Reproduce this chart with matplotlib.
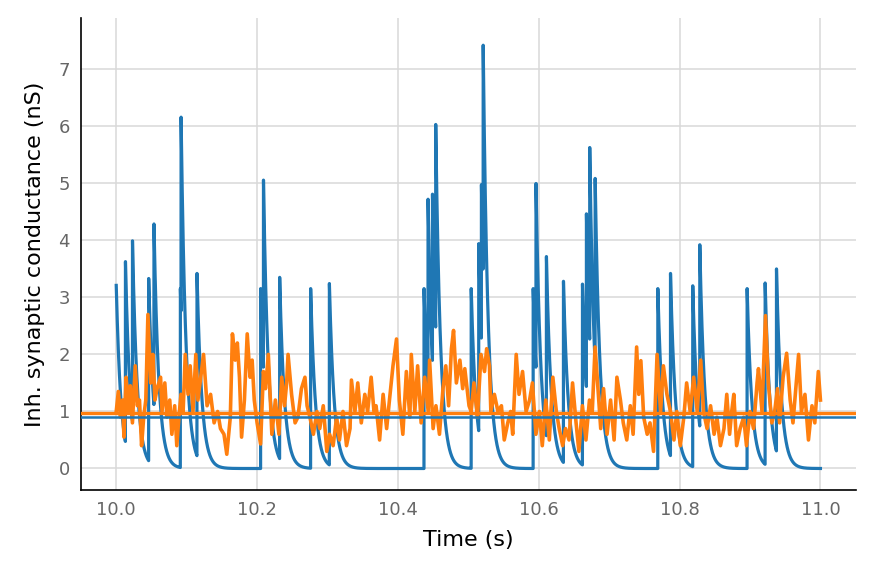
import numpy as np
import matplotlib
matplotlib.use("Agg")
import matplotlib.pyplot as plt

# Blue trace: event times (s) and peak conductance (nS)
blue_event_t = [10.000, 10.013, 10.023, 10.046, 10.0535, 10.091, 10.092, 10.1146,
                10.205, 10.209, 10.232, 10.276, 10.3026, 10.437, 10.4427, 10.449,
                10.4536, 10.504, 10.5147, 10.5185, 10.521, 10.592, 10.596, 10.6108,
                10.635, 10.662, 10.6676, 10.6723, 10.680, 10.769, 10.787, 10.8186,
                10.8286, 10.8958, 10.9214, 10.9375]
blue_peak = [3.21, 3.68, 4.05, 3.38, 4.35, 3.2, 6.25, 3.47,
             3.2, 5.13, 3.4, 3.2, 3.29, 3.2, 4.79, 4.88,
             6.12, 3.2, 4.0, 5.05, 7.53, 3.2, 5.07, 3.77,
             3.33, 3.28, 4.53, 5.71, 5.16, 3.2, 3.47, 3.25,
             3.98, 3.2, 3.30, 3.55]
blue_tau = 0.0068  # decay time constant (s)
t_start, t_end = 10.0, 11.0

# Orange trace: turning points (time, value)
orange_t = [10.000, 10.003, 10.006, 10.009, 10.011, 10.014, 10.017, 10.020, 10.023, 10.027,
            10.030, 10.033, 10.036, 10.039, 10.042, 10.045, 10.049, 10.052, 10.055, 10.058,
            10.063, 10.065, 10.069, 10.072, 10.076, 10.079, 10.083, 10.086, 10.089, 10.092,
            10.095, 10.098, 10.102, 10.105, 10.109, 10.113, 10.116, 10.120, 10.124, 10.129,
            10.134, 10.139, 10.144, 10.148, 10.153, 10.157, 10.162, 10.165, 10.169, 10.172,
            10.175, 10.178, 10.182, 10.186, 10.190, 10.193, 10.196, 10.200, 10.205, 10.209,
            10.212, 10.216, 10.221, 10.226, 10.231, 10.235, 10.239, 10.242, 10.244, 10.249,
            10.254, 10.258, 10.263, 10.268, 10.271, 10.275, 10.280, 10.285, 10.289, 10.294,
            10.299, 10.303, 10.308, 10.313, 10.317, 10.322, 10.327, 10.332, 10.334, 10.339,
            10.343, 10.348, 10.353, 10.357, 10.362, 10.366, 10.369, 10.374, 10.379, 10.384,
            10.388, 10.393, 10.398, 10.402, 10.407, 10.412, 10.417, 10.419, 10.424, 10.428,
            10.433, 10.438, 10.443, 10.445, 10.450, 10.454, 10.459, 10.464, 10.468, 10.472,
            10.476, 10.479, 10.483, 10.488, 10.492, 10.495, 10.501, 10.504, 10.508, 10.513,
            10.518, 10.523, 10.526, 10.530, 10.532, 10.537, 10.542, 10.547, 10.551, 10.556,
            10.560, 10.563, 10.568, 10.572, 10.577, 10.582, 10.587, 10.591, 10.596, 10.601,
            10.605, 10.610, 10.615, 10.620, 10.625, 10.629, 10.634, 10.638, 10.643, 10.648,
            10.653, 10.657, 10.662, 10.667, 10.672, 10.676, 10.680, 10.683, 10.688, 10.692,
            10.697, 10.702, 10.707, 10.711, 10.716, 10.720, 10.725, 10.730, 10.734, 10.739,
            10.742, 10.745, 10.749, 10.754, 10.758, 10.763, 10.768, 10.773, 10.777, 10.782,
            10.787, 10.792, 10.796, 10.801, 10.806, 10.810, 10.815, 10.820, 10.825, 10.830,
            10.834, 10.839, 10.844, 10.849, 10.853, 10.858, 10.863, 10.867, 10.871, 10.874,
            10.877, 10.881, 10.886, 10.891, 10.895, 10.900, 10.905, 10.910, 10.912, 10.917,
            10.919, 10.922, 10.926, 10.931, 10.935, 10.939, 10.942, 10.947, 10.952, 10.957,
            10.961, 10.969, 10.973, 10.978, 10.983, 10.988, 10.992, 10.997, 11.000]
orange_v = [1.0, 1.35, 0.9, 1.2, 0.55, 1.6, 1.0, 1.45, 0.8, 1.8,
            1.1, 1.2, 0.4, 0.9, 1.2, 2.7, 1.5, 2.0, 1.2, 1.4,
            1.6, 1.0, 1.5, 0.9, 1.2, 0.6, 1.1, 0.4, 0.9, 1.3,
            1.0, 2.0, 1.3, 1.8, 1.0, 2.0, 1.2, 1.6, 2.0, 1.1,
            1.3, 0.8, 1.0, 0.7, 0.6, 0.25, 0.9, 2.36, 1.9, 2.2,
            1.6, 0.55, 1.2, 2.36, 1.6, 1.9, 1.2, 0.8, 0.43, 1.7,
            1.4, 2.0, 0.6, 1.2, 0.6, 1.6, 1.1, 1.5, 2.0, 1.3,
            0.8, 0.9, 1.4, 1.6, 1.1, 0.9, 0.6, 1.0, 0.7, 1.1,
            0.3, 0.6, 0.4, 0.9, 0.5, 1.0, 0.4, 0.7, 1.55, 1.0,
            1.5, 0.8, 1.3, 1.0, 1.6, 1.0, 1.1, 0.5, 1.3, 0.7,
            1.2, 1.8, 2.27, 1.2, 0.6, 1.7, 0.9, 2.0, 1.0, 1.8,
            0.8, 1.6, 1.0, 1.9, 0.7, 1.1, 0.6, 1.4, 1.8, 1.1,
            2.1, 2.42, 1.5, 1.9, 1.4, 1.75, 1.1, 1.0, 1.5, 0.9,
            2.0, 1.7, 2.1, 1.8, 1.0, 1.3, 1.0, 1.1, 0.5, 0.8,
            1.0, 0.6, 2.0, 1.3, 1.7, 1.0, 1.2, 1.5, 0.6, 1.0,
            0.4, 1.2, 0.5, 1.6, 1.0, 0.7, 0.4, 0.7, 0.5, 1.5,
            0.8, 0.3, 1.1, 0.5, 1.2, 1.0, 2.13, 1.6, 0.7, 1.4,
            0.6, 1.2, 0.5, 1.6, 1.2, 0.8, 0.5, 1.1, 0.6, 2.13,
            1.3, 1.89, 0.9, 0.6, 0.8, 0.3, 2.0, 1.0, 1.8, 1.3,
            1.0, 0.5, 1.0, 0.4, 0.9, 1.5, 1.0, 1.6, 1.0, 1.9,
            1.0, 0.7, 1.1, 0.6, 0.9, 0.4, 0.7, 1.3, 0.6, 1.0,
            1.3, 0.4, 0.7, 0.9, 0.4, 1.0, 0.7, 1.5, 1.75, 1.0,
            1.7, 2.68, 1.5, 0.8, 1.0, 1.4, 0.8, 1.6, 2.02, 1.2,
            0.8, 2.0, 1.0, 1.3, 0.5, 1.1, 0.8, 1.7, 1.2]

blue_mean = 0.91
orange_mean = 0.97

# Build blue trace: each event sets the peak, then exponential decay
t = np.arange(t_start, t_end + 1e-9, 0.0001)
ev_t = np.array(blue_event_t)
ev_p = np.array(blue_peak)
idx = np.searchsorted(ev_t, t, side="right") - 1
idx = np.clip(idx, 0, len(ev_t) - 1)
g_blue = ev_p[idx] * np.exp(-(t - ev_t[idx]) / blue_tau)

blue = "#1f77b4"
orange = "#ff7f0e"

fig = plt.figure(figsize=(8.74, 5.76), dpi=100)
ax = fig.add_axes([0.0927, 0.149, 0.8863, 0.82])

ax.plot(t, g_blue, color=blue, lw=2.3, zorder=2)
ax.plot(orange_t, orange_v, color=orange, lw=2.6, zorder=3)
ax.axhline(orange_mean, color=orange, lw=2.4, zorder=4)
ax.axhline(blue_mean, color=blue, lw=1.8, zorder=5)

ax.set_xlim(9.95, 11.05)
ax.set_ylim(-0.38, 7.9)
ax.set_xticks([10.0, 10.2, 10.4, 10.6, 10.8, 11.0])
ax.set_yticks(range(0, 8))

ax.grid(True, color="#d9d9d9", lw=1.1, zorder=0)
ax.set_axisbelow(True)
for s in ["top", "right"]:
    ax.spines[s].set_visible(False)
for s in ["left", "bottom"]:
    ax.spines[s].set_color("black")
    ax.spines[s].set_linewidth(1.2)
ax.tick_params(axis="both", length=0, labelsize=13, labelcolor="#666666", pad=8)

ax.set_xlabel("Time (s)", fontsize=16, labelpad=8)
ax.set_ylabel("Inh. synaptic conductance (nS)", fontsize=16, labelpad=10)

fig.savefig("out.png", dpi=100)
